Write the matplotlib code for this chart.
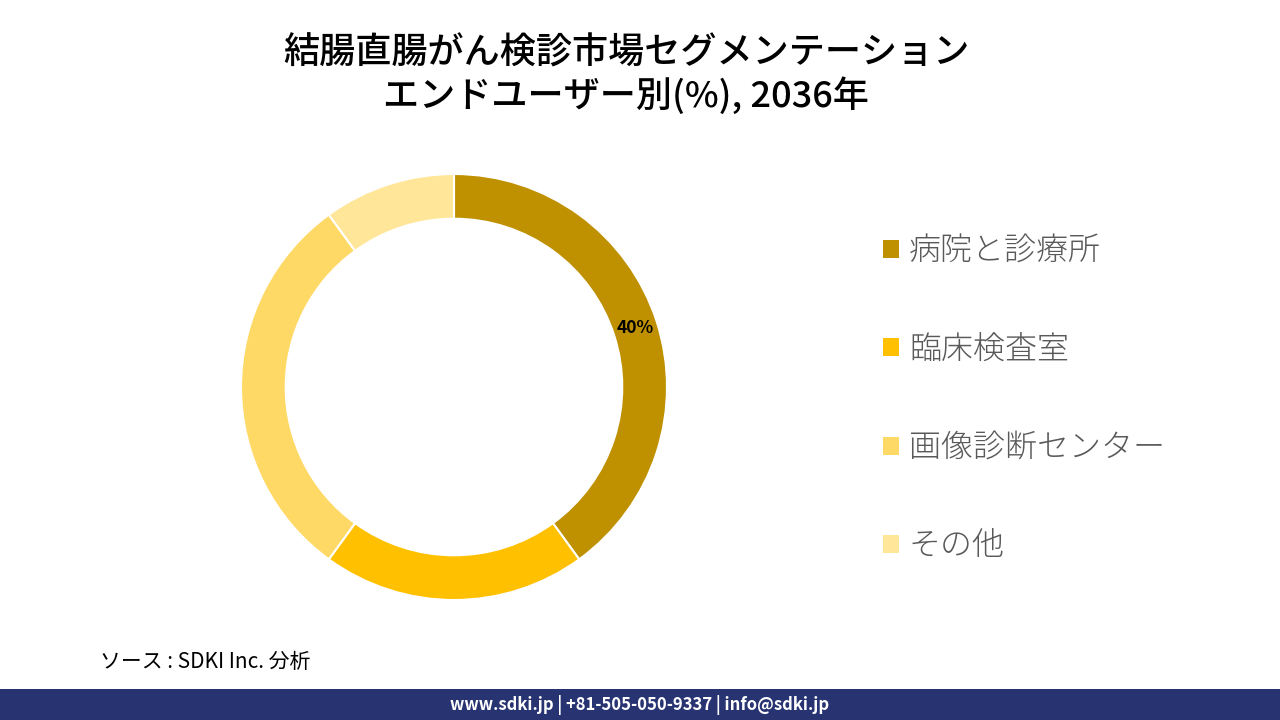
import matplotlib.pyplot as plt
from matplotlib.patches import Rectangle

plt.rcParams['font.family'] = ['Noto Sans CJK JP', 'DejaVu Sans']

# データ (エンドユーザー別シェア, 2036年)
segments = ['病院と診療所', '臨床検査室', '画像診断センター', 'その他']
shares = [40, 20, 30, 10]
colors = ['#BF9000', '#FFC000', '#FFD966', '#FFE699']

title = '結腸直腸がん検診市場セグメンテーション\nエンドユーザー別(%), 2036年'
source = 'ソース : SDKI Inc. 分析'
footer = 'www.sdki.jp | +81-505-050-9337 | info@sdki.jp'

W, H = 1280, 720
fig = plt.figure(figsize=(12.8, 7.2), dpi=100)

# ドーナツ (中心 454,387 / 半径 213px)
cx, cy, r = 454, 387, 213
ax = fig.add_axes([(cx - r) / W, (H - cy - r) / H, 2 * r / W, 2 * r / H])
wedges, texts, autotexts = ax.pie(
    shares, colors=colors, startangle=90, counterclock=False, radius=1,
    wedgeprops=dict(width=0.21, edgecolor='white', linewidth=1.5),
    autopct=lambda p: '%d%%' % round(p) if p > 35 else '',
    pctdistance=0.895,
)
for t in autotexts:
    t.set_fontsize(12.5)
    t.set_fontweight('bold')
    t.set_color('black')
ax.set_xlim(-1, 1)
ax.set_ylim(-1, 1)
ax.set_aspect('equal')
ax.axis('off')

# 凡例
leg = fig.legend(wedges, segments, loc='upper left',
                 bbox_to_anchor=(854 / W, 1 - 205 / H),
                 frameon=False, prop=dict(size=23, weight='light'),
                 labelcolor='#595959',
                 handlelength=0.5, handleheight=0.5, handletextpad=0.32,
                 labelspacing=2.0)
for h in leg.legend_handles:
    h.set_edgecolor('none')

# タイトル
fig.text(626 / W, 1 - 75 / H, title, ha='center', va='center',
         fontsize=26, fontweight='medium', color='black', linespacing=1.2)

# ソース
fig.text(100 / W, 1 - 662 / H, source, ha='left', va='center',
         fontsize=15, style='italic', color='black')

# フッター
fig.patches.append(Rectangle((0, 0), 1, 31 / H, transform=fig.transFigure,
                             facecolor='#283472', edgecolor='none'))
fig.text(640 / W, 15 / H, footer, ha='center', va='center',
         fontsize=12, fontweight='bold', color='white')

fig.savefig('out.png', dpi=100, facecolor='white')
